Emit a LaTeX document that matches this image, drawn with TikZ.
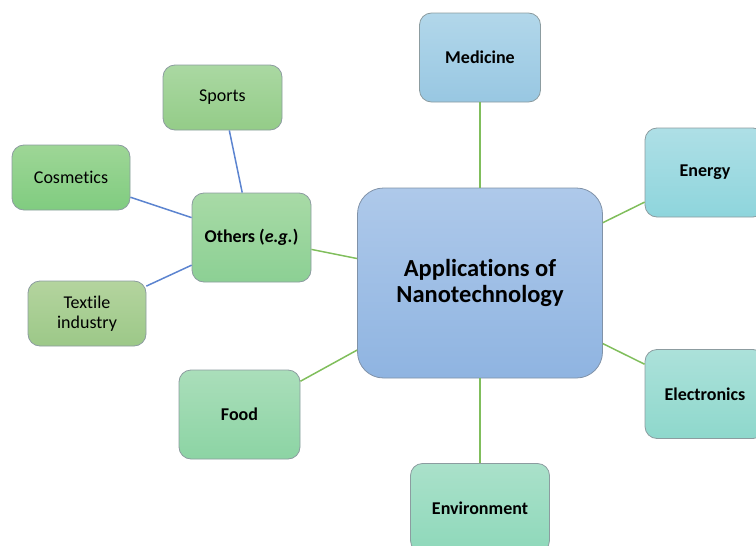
\documentclass[tikz,border=0pt]{standalone}
\usepackage{fontspec}
\setmainfont{Carlito}[Ligatures=NoCommon]
\usepackage{xcolor}
\definecolor{hubTop}{RGB}{174, 201, 234}
\definecolor{hubBottom}{RGB}{143, 180, 225}
\definecolor{hubEdge}{RGB}{128, 146, 168}
\definecolor{medTop}{RGB}{178, 215, 234}
\definecolor{medBottom}{RGB}{152, 199, 226}
\definecolor{energyTop}{RGB}{174, 223, 230}
\definecolor{energyBottom}{RGB}{142, 213, 220}
\definecolor{elecTop}{RGB}{172, 225, 218}
\definecolor{elecBottom}{RGB}{142, 216, 204}
\definecolor{envTop}{RGB}{170, 225, 202}
\definecolor{envBottom}{RGB}{142, 216, 186}
\definecolor{foodTop}{RGB}{170, 222, 186}
\definecolor{foodBottom}{RGB}{140, 212, 164}
\definecolor{otherTop}{RGB}{168, 218, 166}
\definecolor{otherBottom}{RGB}{140, 208, 148}
\definecolor{sportTop}{RGB}{170, 216, 162}
\definecolor{sportBottom}{RGB}{148, 204, 136}
\definecolor{cosmTop}{RGB}{158, 214, 150}
\definecolor{cosmBottom}{RGB}{128, 204, 128}
\definecolor{textTop}{RGB}{180, 212, 158}
\definecolor{textBottom}{RGB}{156, 200, 136}
\definecolor{boxEdge}{RGB}{140, 156, 160}
\definecolor{linkGreen}{RGB}{128, 190, 92}
\definecolor{linkBlue}{RGB}{92, 132, 208}

\begin{document}
\begin{tikzpicture}[x=1pt, y=-1pt,
    topic/.style={draw=boxEdge, line width=0.8pt, rounded corners=12pt, align=center,
        minimum width=120pt, minimum height=89pt, inner sep=2pt,
        font=\fontsize{18}{21}\selectfont\bfseries},
    subtopic/.style={topic, minimum width=118pt, minimum height=65pt, font=\fontsize{18}{20}\selectfont},
    link/.style={line width=1.5pt, linkGreen},
    sublink/.style={line width=1.5pt, linkBlue}]
    \clip (0,0) rectangle (756,546);
    % Centre box
    \node[draw=hubEdge, line width=0.8pt, top color=hubTop, bottom color=hubBottom, rounded corners=26pt, align=center, minimum width=245pt, minimum height=190pt, font=\fontsize{24.5}{26}\selectfont\bfseries] (hub) at (480,283) {Applications of\\Nanotechnology};

    % Application boxes
    \node[topic, top color=medTop, bottom color=medBottom, minimum width=121pt] (medicine) at (480,57.5) {Medicine};
    \node[topic, top color=energyTop, bottom color=energyBottom] (energy) at (705,172.5) {Energy};
    \node[topic, top color=elecTop, bottom color=elecBottom] (electronics) at (705,394) {Electronics};
    \node[topic, top color=envTop, bottom color=envBottom, minimum width=139pt] (environment) at (480,508) {Environment};
    \node[topic, top color=foodTop, bottom color=foodBottom, minimum width=121pt] (food) at (239.5,414.5) {Food};
    \node[topic, top color=otherTop, bottom color=otherBottom, minimum width=119pt] (others) at (251.5,237.5) {Others (\textit{e.g.})};

    % Examples under Others
    \node[subtopic, top color=sportTop, bottom color=sportBottom, minimum width=119pt] (sports) at (222.5,97.5) {Sports};
    \node[subtopic, top color=cosmTop, bottom color=cosmBottom] (cosmetics) at (71,177.5) {Cosmetics};
    \node[subtopic, top color=textTop, bottom color=textBottom] (textile) at (87,313.5) {Textile\\industry};

    % Links
    \draw[link] (hub) -- (medicine);
    \draw[link] (hub) -- (energy);
    \draw[link] (hub) -- (electronics);
    \draw[link] (hub) -- (environment);
    \draw[link] (hub) -- (food);
    \draw[link] (hub) -- (others);
    \draw[sublink] (others) -- (sports);
    \draw[sublink] (others) -- (cosmetics);
    \draw[sublink] (others) -- (textile);
\end{tikzpicture}
\end{document}
